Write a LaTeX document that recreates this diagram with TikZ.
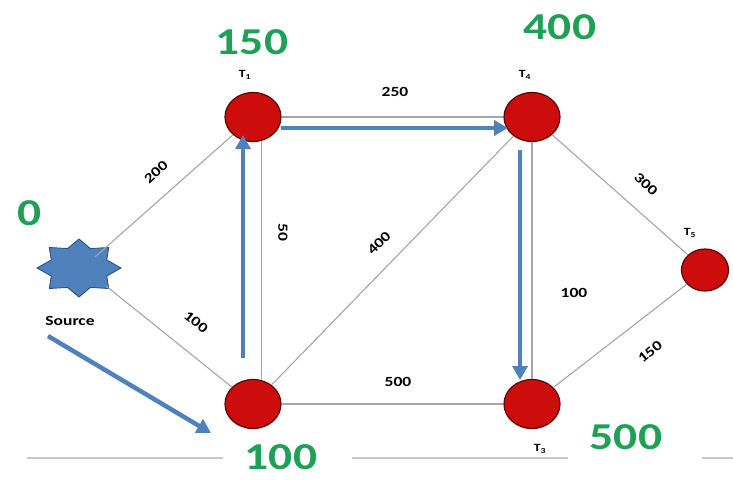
\documentclass[tikz,border=0pt]{standalone}
\usepackage{fontspec}
\setmainfont{Carlito}
\usetikzlibrary{arrows.meta,shapes.geometric}
\definecolor{nodered}{RGB}{205,12,12}
\definecolor{nodeedge}{RGB}{90,5,5}
\definecolor{edgegray}{RGB}{165,165,165}
\definecolor{pathblue}{RGB}{79,129,189}
\definecolor{stardark}{RGB}{45,80,130}
\definecolor{distgreen}{RGB}{30,160,85}
\definecolor{rulegray}{RGB}{200,200,200}
\newcommand{\wide}[1]{\scalebox{1.25}[1]{#1}}
\tikzset{
  vertex/.style={ellipse, fill=nodered, draw=nodeedge, line width=1.2pt,
    minimum width=56pt, minimum height=49pt, inner sep=0pt},
  smallvertex/.style={vertex, minimum width=47pt, minimum height=42pt},
  link/.style={draw=edgegray, line width=1.1pt},
  route/.style={draw=pathblue, line width=4.5pt,
    -{Triangle[length=14pt,width=15pt]}},
  weight/.style={font=\bfseries\fontsize{14}{14}\selectfont, inner sep=0pt},
  dist/.style={font=\bfseries\fontsize{38}{38}\selectfont, text=distgreen, inner sep=0pt},
  tag/.style={font=\bfseries\fontsize{11}{11}\selectfont, inner sep=0pt},
  rulerline/.style={draw=rulegray, line width=1.8pt}
}
\begin{document}
\begin{tikzpicture}[x=1pt,y=-1pt]
\useasboundingbox[fill=white] (0,0) rectangle (733,479);

% source star
\coordinate (src) at (79,268);
\draw[fill=pathblue, draw=stardark, line width=0.9pt]
  (79,239) \foreach \i in {1,...,15}{
    -- ({79+ifthenelse(mod(\i,2)==0,42,30)*cos(90+22.5*\i)},
        {268-ifthenelse(mod(\i,2)==0,29,21)*sin(90+22.5*\i)})
  } -- cycle;
\coordinate (s1) at (95,257);
\coordinate (s2) at (106,286);

% vertices
\node[vertex] (T1) at (253,117) {};
\node[vertex] (T4) at (532,117) {};
\node[vertex] (N)  at (253,404) {};
\node[vertex] (T3) at (532,404) {};
\node[smallvertex] (T5) at (705,270) {};

% edges
\draw[link] (s1) -- (T1);
\draw[link] (s2) -- (N);
\draw[link] (T1) -- (T4);
\draw[link] (T1.-71) -- (N.71);
\draw[link] (N) -- (T4);
\draw[link] (N) -- (T3);
\draw[link] (T4) -- (T3);
\draw[link] (T4) -- (T5);
\draw[link] (T3) -- (T5);

% shortest-path arrows
\coordinate (a1) at (48,336);  \coordinate (b1) at (211,433);
\coordinate (a2) at (243,358); \coordinate (b2) at (243,135);
\coordinate (a3) at (281,128); \coordinate (b3) at (508,128);
\coordinate (a4) at (520,150); \coordinate (b4) at (520,380);
\draw[route] (a1) -- (b1);
\draw[route] (a2) -- (b2);
\draw[route] (a3) -- (b3);
\draw[route] (a4) -- (b4);

% edge weights
\node[weight, rotate=42]  (w1) at (156,172) {\wide{200}};
\node[weight, rotate=-39] (w2) at (196,322) {\wide{100}};
\node[weight]             (w3) at (395,92)  {\wide{250}};
\node[weight, rotate=-90] (w4) at (283,232) {\wide{50}};
\node[weight, rotate=45]  (w5) at (379,243) {\wide{400}};
\node[weight]             (w6) at (398,382) {\wide{500}};
\node[weight]             (w7) at (574,293) {\wide{100}};
\node[weight, rotate=-43] (w8) at (646,184) {\wide{300}};
\node[weight, rotate=39]  (w9) at (650,352) {\wide{150}};

% vertex names
\node[weight] (lsrc) at (70,321) {\wide{Source}};
\node[tag] (l1) at (245,75)  {\wide{T\textsubscript{1}}};
\node[tag] (l4) at (525,75)  {\wide{T\textsubscript{4}}};
\node[tag] (l5) at (690,233) {\wide{T\textsubscript{5}}};
\node[tag] (l3) at (540,449) {\wide{T\textsubscript{3}}};

% distances
\node[dist] (d0) at (30,213)  {\wide{0}};
\node[dist] (d1) at (252,42)  {\wide{150}};
\node[dist] (d4) at (560,27)  {\wide{400}};
\node[dist] (d3) at (626,437) {\wide{500}};
\node[dist] (dn) at (281,457) {\wide{100}};

% baseline rule
\draw[rulerline] (27,458) -- (223,458);
\draw[rulerline] (352,458) -- (568,458);
\draw[rulerline] (702,458) -- (733,458);
\end{tikzpicture}
\end{document}
